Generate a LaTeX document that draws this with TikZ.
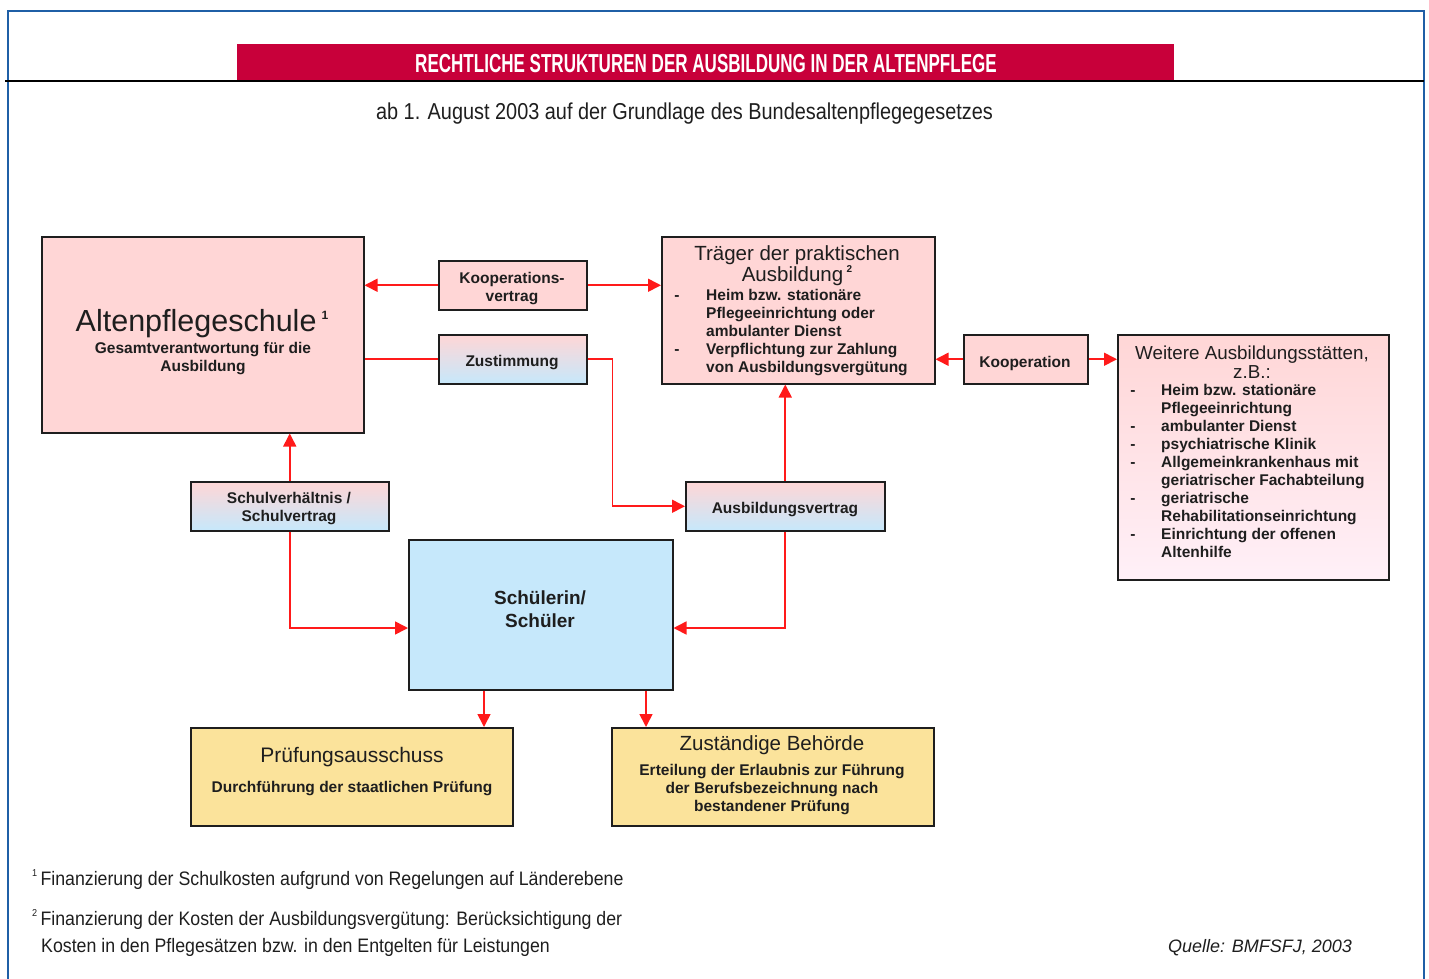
\documentclass[tikz,border=0pt]{standalone}
\usepackage{fontspec}
\setmainfont{Liberation Sans}
\newfontfamily\narrowfont[FakeStretch=0.865]{Liberation Sans}
\newfontfamily\footfont[FakeStretch=0.91]{Liberation Sans}
\newfontfamily\titlefont[FakeStretch=0.655]{Liberation Sans}
\usetikzlibrary{arrows.meta}
\definecolor{frameblue}{HTML}{1F5FA6}
\definecolor{titlered}{HTML}{C8003A}
\definecolor{boxpink}{HTML}{FFD6D6}
\definecolor{boxblue}{HTML}{C6E8FB}
\definecolor{boxyellow}{HTML}{FBE39B}
\definecolor{lightpink}{HTML}{FFF0F8}
\definecolor{arrowred}{HTML}{FF1A1A}
\definecolor{inkgray}{HTML}{1E1E1E}
\newcommand\fsz[2]{\fontsize{#1pt}{#2pt}\selectfont}
\newcommand\smtxt{\fsz{15.5}{18}\bfseries}
\tikzset{
  box/.style={draw=inkgray, line width=1.5pt, inner sep=0pt, anchor=north west},
  pinkbox/.style={box, fill=boxpink},
  gradbox/.style={box, top color=boxpink, bottom color=boxblue},
  yellowbox/.style={box, fill=boxyellow},
  conn/.style={draw=arrowred, line width=1.6pt, -{Triangle[length=13pt,width=13pt]}},
  plainconn/.style={draw=arrowred, line width=1.6pt},
  txt/.style={inner sep=0pt, text=inkgray},
  sm/.style={txt, font=\smtxt},
}
\begin{document}
\begin{tikzpicture}[x=1pt,y=-1pt]
\useasboundingbox (0,0) rectangle (1429,978);
% frame
\draw[frameblue, line width=2pt] (8,980) -- (8,11) -- (1424,11) -- (1424,980);
\fill[titlered] (237,44) rectangle (1174,81);
\draw[black, line width=2.5pt] (5,81) -- (1424,81);
\node[txt, text=white, font=\titlefont\bfseries\fsz{26}{30}] (title) at (706,64) {RECHTLICHE STRUKTUREN DER AUSBILDUNG IN DER ALTENPFLEGE};
\node[txt, font=\narrowfont\fsz{23}{27}] (subtitle) at (684.5,114) {ab 1. August 2003 auf der Grundlage des Bundesaltenpflegegesetzes};

% boxes
\node[pinkbox, minimum width=322, minimum height=196] (aps) at (41,236) {};
\node[pinkbox, minimum width=148, minimum height=49] (kv) at (438,260) {};
\node[gradbox, minimum width=148, minimum height=49] (zu) at (438,334) {};
\node[pinkbox, minimum width=273, minimum height=147] (tr) at (661,236) {};
\node[pinkbox, minimum width=124, minimum height=49] (ko) at (963,334) {};
\node[box, top color=boxpink, bottom color=lightpink, minimum width=271, minimum height=245] (we) at (1117,334) {};
\node[gradbox, minimum width=198, minimum height=49] (sv) at (190,481) {};
\node[gradbox, minimum width=199, minimum height=49] (av) at (685,481) {};
\node[box, fill=boxblue, minimum width=264, minimum height=150] (sch) at (408,539) {};
\node[yellowbox, minimum width=322, minimum height=98] (pa) at (190,727) {};
\node[yellowbox, minimum width=322, minimum height=98] (zb) at (611,727) {};

% box texts
\node[txt, font=\fsz{30.5}{34}] (apsT) at (202,324) {Altenpflegeschule\,\raisebox{0.75ex}{\fsz{12}{14}\bfseries 1}};
\node[sm, align=center] (apsS) at (203,359) {Gesamtverantwortung für die\\Ausbildung};
\node[sm, align=center] (kvT) at (512,289) {Kooperations-\\vertrag};
\node[sm] (zuT) at (512,363) {Zustimmung};
\node[txt, font=\fsz{20.5}{21}, align=center] (trT) at (797,266) {Träger der praktischen\\Ausbildung\,\raisebox{0.9ex}{\fsz{10}{12}\bfseries 2}};
\foreach \yy/\tt/\bb in {298/{Heim bzw. stationäre}/1, 316/{Pflegeeinrichtung oder}/0, 334/{ambulanter Dienst}/0, 352/{Verpflichtung zur Zahlung}/1, 370/{von Ausbildungsvergütung}/0}{
  \node[sm, anchor=mid west] at (706,\yy) {\tt};
  \ifnum\bb=1 \node[sm, anchor=mid] at (677,\yy) {-};\fi
}
\node[sm] (koT) at (1025,363) {Kooperation};
\node[txt, font=\fsz{18.8}{19.5}, align=center] (weT) at (1252,362) {Weitere Ausbildungsstätten,\\z.B.:};
\foreach \yy/\tt/\bb in {393/{Heim bzw. stationäre}/1, 411/{Pflegeeinrichtung}/0, 429/{ambulanter Dienst}/1, 447/{psychiatrische Klinik}/1, 465/{Allgemeinkrankenhaus mit}/1, 483/{geriatrischer Fachabteilung}/0, 501/{geriatrische}/1, 519/{Rehabilitationseinrichtung}/0, 537/{Einrichtung der offenen}/1, 555/{Altenhilfe}/0}{
  \node[sm, anchor=mid west] at (1161,\yy) {\tt};
  \ifnum\bb=1 \node[sm, anchor=mid] at (1133,\yy) {-};\fi
}
\node[sm, align=center] (svT) at (289,509) {Schulverhältnis /\\Schulvertrag};
\node[sm] (avT) at (785,510) {Ausbildungsvertrag};
\node[txt, font=\fsz{19}{23}\bfseries, align=center] (schT) at (540,609) {Schülerin/\\Schüler};
\node[txt, font=\fsz{21}{24}] (paT) at (352,757) {Prüfungsausschuss};
\node[sm] (paS) at (352,789) {Durchführung der staatlichen Prüfung};
\node[txt, font=\fsz{20.5}{24}] (zbT) at (772,745) {Zuständige Behörde};
\node[sm, align=center] (zbS) at (772,790) {Erteilung der Erlaubnis zur Führung\\der Berufsbezeichnung nach\\bestandener Prüfung};

% connectors
\draw[conn] (kv.west) -- (kv.west -| aps.east);
\draw[conn] (kv.east) -- (kv.east -| tr.west);
\draw[plainconn] (zu.west) -- (zu.west -| aps.east);
\draw[conn] (zu.east) -- ++(25,0) |- (av.west);
\draw[conn] (sv.north) -- (sv.north |- aps.south);
\draw[conn] (sv.south) |- (sch.west |- 0,628);
\draw[conn] (av.north) -- (av.north |- tr.south);
\draw[conn] (av.south) |- (sch.east |- 0,628);
\draw[conn] (ko.west) -- (ko.west -| tr.east);
\draw[conn] (ko.east) -- (ko.east -| we.west);
\draw[conn] (sch.south -| 484,0) -- (pa.north -| 484,0);
\draw[conn] (sch.south -| 646,0) -- (zb.north -| 646,0);

% footnotes
\node[txt, font=\footfont\fsz{19.5}{23}, anchor=mid west] (fn1) at (32,883) {\raisebox{0.9ex}{\fsz{10}{12}1}\,Finanzierung der Schulkosten aufgrund von Regelungen auf Länderebene};
\node[txt, font=\footfont\fsz{19.5}{23}, anchor=mid west] (fn2) at (32,923) {\raisebox{0.9ex}{\fsz{10}{12}2}\,Finanzierung der Kosten der Ausbildungsvergütung: Berücksichtigung der};
\node[txt, font=\footfont\fsz{19.5}{23}, anchor=mid west] (fn3) at (41,950) {Kosten in den Pflegesätzen bzw. in den Entgelten für Leistungen};
\node[txt, font=\itshape\fsz{18}{22}, anchor=mid east] (src) at (1352,950) {Quelle: BMFSFJ, 2003};
\end{tikzpicture}
\end{document}
